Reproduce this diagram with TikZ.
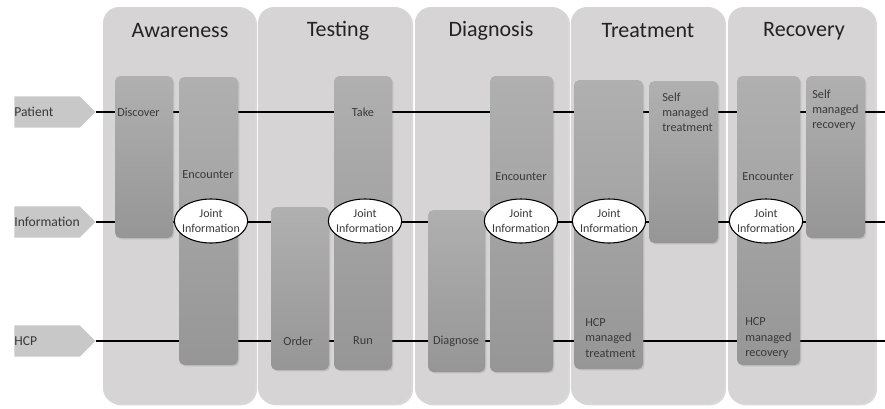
\documentclass[tikz,border=0pt]{standalone}
\usepackage{fontspec}
\setmainfont{Carlito}
\usepackage{tikz}
\usetikzlibrary{positioning,fit,shapes.geometric,shapes.symbols,shadows}
\definecolor{phasecol}{RGB}{214,212,213}
\definecolor{acttop}{RGB}{176,176,176}
\definecolor{actbot}{RGB}{150,150,150}
\definecolor{lanecol}{RGB}{200,200,200}
\definecolor{inkcol}{RGB}{35,35,35}

\begin{document}
\begin{tikzpicture}[
  x=0.75pt, y=-0.75pt,
  font=\fontsize{9.2}{11.3}\selectfont,
  phase/.style={rounded corners=12pt, fill=phasecol, inner sep=0pt,
                drop shadow={opacity=0.3, shadow xshift=1.5pt, shadow yshift=-1pt}},
  phasettl/.style={font=\fontsize{16.5}{18}\selectfont, text=inkcol},
  act/.style={rounded corners=4pt, top color=acttop, bottom color=actbot,
              inner sep=0pt, draw=none,
              drop shadow={opacity=0.25, shadow xshift=1pt, shadow yshift=-1pt}},
  acttxt/.style={text=inkcol!90, inner sep=0pt, align=left},
  joint/.style={ellipse, fill=white, draw=black, line width=0.8pt,
                minimum width=55pt, minimum height=33pt, inner xsep=-6pt, inner ysep=0pt,
                align=center, text=inkcol!90, font=\fontsize{9}{11}\selectfont},
  lane/.style={signal, signal to=east, fill=lanecol, minimum width=60pt,
               minimum height=23.5pt, inner sep=0pt, text width=49pt,
               font=\fontsize{10.2}{12}\selectfont, text=inkcol!90},
  laneline/.style={line width=1.2pt, draw=black},
]
\useasboundingbox (0,0) rectangle (885,408);

% ---------- phases ----------
\node[phase, fit={(103,7) (255,404)}] (awareness) {};
\node[phase, fit={(258,7) (411,404)}] (testing) {};
\node[phase, fit={(415,7) (568,404)}] (diagnosis) {};
\node[phase, fit={(571,7) (724,404)}] (treatment) {};
\node[phase, fit={(728,7) (875,404)}] (recovery) {};
\node[phasettl] at (180,31) {Awareness};
\node[phasettl] at (338,31) {Testing};
\node[phasettl] at (491,31) {Diagnosis};
\node[phasettl] at (648,31) {Treatment};
\node[phasettl] at (804,31) {Recovery};

% ---------- lanes ----------
\node[lane] (patient) at (47,112) {Patient};
\node[lane] (info) at (47,222) {Information};
\node[lane] (hcp) at (47,341) {HCP};
\coordinate (patientend) at (885,112);
\coordinate (infoend) at (885,222);
\coordinate (hcpend) at (885,341);
\draw[laneline] (patient.east) -- (patientend);
\draw[laneline] (info.east) -- (infoend);
\draw[laneline] (hcp.east) -- (hcpend);

% ---------- Awareness ----------
\node[act, fit={(115,76) (173,238)}] (discover) {};
\node[act, fit={(179,77) (238,365)}] (awencounter) {};
\node[acttxt, anchor=west] at (117,112) {Discover};
\node[acttxt] at (208,175) {Encounter};
\node[joint] (awjoint) at (211,221) {Joint\\Information};

% ---------- Testing ----------
\node[act, fit={(271,207) (329,370)}] (order) {};
\node[act, fit={(334,76) (392,370)}] (takerun) {};
\node[acttxt] at (298,341) {Order};
\node[acttxt] at (363,112) {Take};
\node[acttxt] at (363,341) {Run};
\node[joint] (tsjoint) at (365,221) {Joint\\Information};

% ---------- Diagnosis ----------
\node[act, fit={(428,210) (485,372)}] (diagnose) {};
\node[act, fit={(490,76) (553,372)}] (dgencounter) {};
\node[acttxt] at (456,341) {Diagnose};
\node[acttxt] at (521,177) {Encounter};
\node[joint] (dgjoint) at (521,221) {Joint\\Information};

% ---------- Treatment ----------
\node[act, fit={(574,80) (643,369)}] (hcptreat) {};
\node[act, fit={(649,81) (718,243)}] (selftreat) {};
\node[acttxt, anchor=west] at (585,338) {HCP\\managed\\treatment};
\node[acttxt, anchor=west] at (662,112) {Self\\managed\\treatment};
\node[joint] (trjoint) at (609,221) {Joint\\Information};

% ---------- Recovery ----------
\node[act, fit={(737,76) (800,365)}] (rcencounter) {};
\node[act, fit={(806,76) (865,238)}] (selfrec) {};
\node[acttxt] at (768,177) {Encounter};
\node[acttxt, anchor=west] at (745,338) {HCP\\managed\\recovery};
\node[acttxt, anchor=west] at (812,110) {Self\\managed\\recovery};
\node[joint] (rcjoint) at (766,221) {Joint\\Information};

\end{tikzpicture}
\end{document}
